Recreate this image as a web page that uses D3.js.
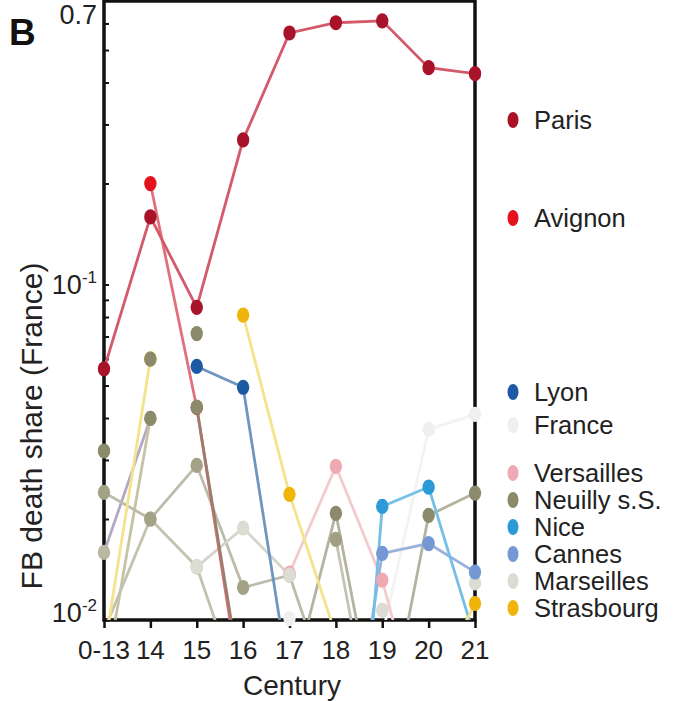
<!DOCTYPE html>
<html>
<head>
<meta charset="utf-8">
<script src="https://cdn.jsdelivr.net/npm/d3@7"></script>
<style>
  body { margin: 0; background: #fff; }
  svg { display: block; font-family: "Liberation Sans", Arial, sans-serif; }
</style>
</head>
<body>
<div id="chart"></div>
<script>
// centuries on the x axis
const centuries = ["0-13", "14", "15", "16", "17", "18", "19", "20", "21"];

// FB death share per century (null = no data / zero)
const paris      = [0.056, 0.159, 0.0855, 0.27, 0.562, 0.603, 0.611, 0.443, 0.425];
const avignon    = [null, 0.2, 0.043, 0.0056, null, null, null, null, null];
const lyon       = [null, null, 0.057, 0.0494, 0.0065, null, null, null, null];
const france     = [null, null, null, null, 0.0101, null, 0.009, 0.037, 0.041];
const versailles = [null, null, null, null, 0.0138, 0.0287, 0.01315, 0.004, null];
const neuilly    = [0.0319, null, 0.0714, null, 0.006, 0.0208, 0.004, 0.0205, 0.0239];
const nice       = [null, null, null, null, null, 0.0004, 0.0218, 0.0249, 0.0088];
const cannes     = [null, null, null, null, null, 0.002, 0.0158, 0.0169, 0.0139];
const marseilles = [null, null, 0.0144, 0.0188, 0.0136, null, 0.0107, null, 0.0129];
const strasbourg = [0.008, 0.06, null, 0.081, 0.0237, 0.009, null, 0.006, 0.0112];
// other cities, not in the legend
const otherA     = [0.0159, 0.0399, null, null, null, null, null, null, null];
const otherB     = [0.0064, 0.0399, null, null, null, null, null, null, null];
const otherC     = [0.0093, 0.0200, 0.0144, 0.0057, null, null, null, null, null];
const otherD     = [0.0240, 0.0200, 0.0289, 0.0125, 0.0136, 0.0053, null, null, null];
const otherE     = [null, null, null, null, null, 0.0174, 0.0032, null, null];
const otherF     = [null, null, 0.0431, 0.006, null, null, null, null, null];
const otherG     = [null, 0.0599, null, null, null, null, null, null, null];

// drawing order: back to front
const series = [
  { name: "France", values: france, dot: "#efefef", line: "#f3f3f3" },
  { name: null, values: otherA, dot: "#b9b8a0", line: "#b4a8c4" },
  { name: null, values: otherB, dot: "#8b8a6b", line: "#c6c3a4" },
  { name: null, values: otherC, dot: "#b3b194", line: "#c4c2ae" },
  { name: null, values: otherD, dot: "#a4a286", line: "#bdbcab" },
  { name: "Versailles", values: versailles, dot: "#efa9b3", line: "#f3cbcf" },
  { name: "Marseilles", values: marseilles, dot: "#dcdcd3", line: "#d6d5cc" },
  { name: null, values: otherE, dot: "#a19f82", line: "#c4c3b5" },
  { name: "Neuilly s.S.", values: neuilly, dot: "#8b8a6b", line: "#b5b3a0" },
  { name: "Cannes", values: cannes, dot: "#7398d3", line: "#98b2dc" },
  { name: "Nice", values: nice, dot: "#2b9ad6", line: "#74bfe6" },
  { name: "Strasbourg", values: strasbourg, dot: "#f0b50a", line: "#f3e38c" },
  { name: null, values: otherG, dot: "#8b8a6b", line: "#b5b3a0" },
  { name: "Avignon", values: avignon, dot: "#e3121c", line: "#e0707c" },
  { name: null, values: otherF, dot: "#8b8a6b", line: "#9c7c6c" },
  { name: "Lyon", values: lyon, dot: "#1c5ba4", line: "#7096c0" },
  { name: "Paris", values: paris, dot: "#a8132a", line: "#d45a6a" }
];

// legend groups, top to bottom
const legendGroups = [["Paris"], ["Avignon"], ["Lyon", "France"], ["Versailles", "Neuilly s.S.", "Nice", "Cannes", "Marseilles", "Strasbourg"]];

const width = 675, height = 701;
const plotLeft = 104, plotRight = 475, plotTop = 1, plotBottom = 620;

let svg = d3.select("#chart").append("svg")
  .attr("width", width)
  .attr("height", height);

let x = d3.scalePoint().domain(centuries).range([plotLeft, plotRight]);
let y = d3.scaleLog().domain([0.01, 0.7]).range([plotBottom, plotTop]);

svg.append("clipPath").attr("id", "plot")
  .append("rect")
  .attr("x", plotLeft).attr("y", plotTop)
  .attr("width", plotRight - plotLeft).attr("height", plotBottom - plotTop);

// frame
svg.append("rect")
  .attr("x", plotLeft).attr("y", plotTop)
  .attr("width", plotRight - plotLeft).attr("height", plotBottom - plotTop)
  .attr("fill", "none").attr("stroke", "#111").attr("stroke-width", 3.5);

// bottom ticks
svg.append("g")
  .attr("transform", `translate(0,${plotBottom})`)
  .call(d3.axisBottom(x).tickSize(8).tickFormat(""))
  .call(g => g.select(".domain").remove())
  .call(g => g.selectAll("line").attr("stroke", "#111").attr("stroke-width", 2.5));

// left ticks (inside)
let yTicks = [0.01, 0.02, 0.03, 0.04, 0.05, 0.06, 0.07, 0.08, 0.09, 0.1, 0.2, 0.3, 0.4, 0.5, 0.6];
svg.append("g")
  .attr("transform", `translate(${plotLeft},0)`)
  .call(d3.axisLeft(y).tickValues(yTicks).tickSize(-5).tickFormat(""))
  .call(g => g.select(".domain").remove())
  .call(g => g.selectAll("line").attr("stroke", "#111").attr("stroke-width", 2));

// x tick labels
svg.append("g").selectAll("text")
  .data(centuries)
  .enter()
  .append("text")
  .attr("x", d => x(d))
  .attr("y", 659)
  .attr("text-anchor", "middle")
  .attr("font-size", 26)
  .attr("fill", "#222")
  .text(d => d);

// y tick labels
let yLabels = [
  { v: 0.7, base: "0.7", sup: null },
  { v: 0.1, base: "10", sup: "-1" },
  { v: 0.01, base: "10", sup: "-2" }
];
let yl = svg.append("g").selectAll("text")
  .data(yLabels)
  .enter()
  .append("text")
  .attr("x", 97)
  .attr("y", d => Math.min(Math.max(y(d.v), 15), 613) + 9)
  .attr("text-anchor", "end")
  .attr("font-size", 27)
  .attr("fill", "#222");
yl.append("tspan").text(d => d.base);
yl.filter(d => d.sup).append("tspan")
  .attr("font-size", 17).attr("dy", -11)
  .text(d => d.sup);

// axis titles
svg.append("text")
  .attr("x", 292).attr("y", 695)
  .attr("text-anchor", "middle")
  .attr("font-size", 28)
  .attr("fill", "#222")
  .text("Century");

svg.append("text")
  .attr("transform", "translate(42,426) rotate(-90)")
  .attr("text-anchor", "middle")
  .attr("font-size", 30)
  .attr("fill", "#222")
  .text("FB death share (France)");

svg.append("text")
  .attr("x", 9).attr("y", 45)
  .attr("font-size", 37)
  .attr("font-weight", "bold")
  .attr("fill", "#111")
  .text("B");

// series
let line = d3.line()
  .defined(d => d != null)
  .x((d, i) => x(centuries[i]))
  .y(d => y(d));

let lines = svg.append("g").attr("clip-path", "url(#plot)");

series.forEach(s => {
  lines.append("path")
    .attr("d", line(s.values))
    .attr("fill", "none")
    .attr("stroke", s.line)
    .attr("stroke-width", 2.8);

  svg.append("g").selectAll("ellipse")
    .data(s.values.map((v, i) => ({ v: v, c: centuries[i] })).filter(d => d.v != null && d.v >= 0.0098))
    .enter()
    .append("ellipse")
    .attr("cx", d => x(d.c))
    .attr("cy", d => y(d.v))
    .attr("rx", 6.2)
    .attr("ry", 7.6)
    .attr("fill", s.dot);
});

// legend
let legendY = [120, 218, 392, 473];
let legend = svg.append("g");
legendGroups.forEach((group, gi) => {
  group.forEach((name, k) => {
    let s = series.find(d => d.name === name);
    let ly = legendY[gi] + k * (gi === 2 ? 33 : 27);
    legend.append("ellipse")
      .attr("cx", 513).attr("cy", ly)
      .attr("rx", 5.5).attr("ry", 8)
      .attr("fill", s.dot);
    legend.append("text")
      .attr("x", 534).attr("y", ly + 9)
      .attr("font-size", 25.5)
      .attr("fill", "#222")
      .text(name);
  });
});
</script>
</body>
</html>
